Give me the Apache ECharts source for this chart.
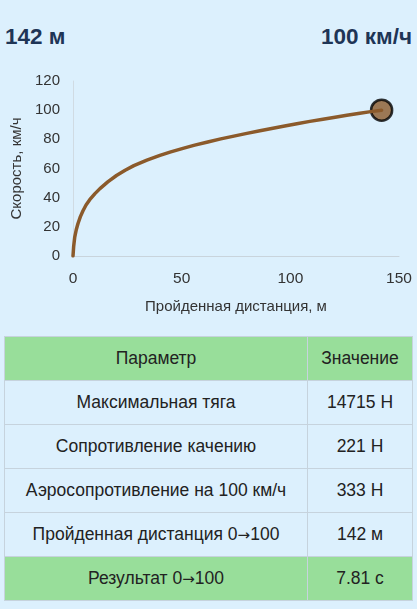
<!DOCTYPE html>
<html><head><meta charset="utf-8">
<script src="https://cdn.jsdelivr.net/npm/echarts@6/dist/echarts.min.js"></script>
<style>
html,body{margin:0;padding:0;background:#dcf0fd;width:417px;height:609px;overflow:hidden;font-family:"Liberation Sans",Arial,sans-serif;}
#hdr{position:absolute;top:24px;left:5px;right:5px;height:30px;font-weight:bold;font-size:22.5px;color:#1e3556;}
#hdr .l{position:absolute;left:0;top:0;}
#hdr .r{position:absolute;right:0;top:0;}
#chart{position:absolute;left:0;top:62px;width:417px;height:262px;}
table{position:absolute;left:4px;top:336px;width:409px;border-collapse:collapse;font-size:17.5px;color:#222;}
td{border:1px solid #c6d3dd;text-align:center;height:43px;padding:0;}
tr.g td{background:#98de9a;}
td.v{width:104px;}
.ar{font-family:"DejaVu Sans";font-size:15px;}
</style></head><body>
<div id="hdr"><span class="l" id="hl"></span><span class="r" id="hr"></span></div>
<div id="chart"></div>
<table id="tbl"></table>
<script>
const distance = [0, 0.3, 0.8, 1.5, 2.3, 3.4, 4.6, 6, 7.7, 10, 12.4, 16, 20, 24, 28, 34, 40, 45, 51, 56, 62, 68, 74, 80, 86, 92, 97.4, 103, 109, 115, 120.6, 126, 132, 137, 142];
const speed    = [0, 6.5, 13, 18, 22.3, 27, 31, 35, 38.6, 42.6, 46.2, 50.8, 55.2, 58.8, 62, 65.8, 69, 71.4, 74, 76, 78.2, 80.3, 82.2, 84.1, 85.9, 87.6, 89.1, 90.7, 92.3, 93.8, 95.2, 96.5, 97.9, 99, 100];
const endPoint = [142, 100];
const headerLeft = "142 м";
const headerRight = "100 км/ч";
const tableHeader = ["Параметр", "Значение"];
const tableParams = ["Максимальная тяга", "Сопротивление качению", "Аэросопротивление на 100 км/ч", "Пройденная дистанция 0→100"];
const tableValues = ["14715 Н", "221 Н", "333 Н", "142 м"];
const resultRow = ["Результат 0→100", "7.81 с"];

document.getElementById('hl').textContent = headerLeft;
document.getElementById('hr').textContent = headerRight;
const tbl = document.getElementById('tbl');
function fill(td, text){
  text.split('→').forEach((part, k)=>{
    if(k>0){const s=document.createElement('span'); s.className='ar'; s.textContent='→'; td.appendChild(s);}
    td.appendChild(document.createTextNode(part));
  });
}
function addRow(cells, cls){
  const tr = document.createElement('tr'); if(cls) tr.className = cls;
  cells.forEach((c,i)=>{const td=document.createElement('td'); fill(td, c); if(i===1) td.className='v'; tr.appendChild(td);});
  tbl.appendChild(tr);
}
addRow(tableHeader, 'g');
tableParams.forEach((p,i)=>addRow([p, tableValues[i]]));
addRow(resultRow, 'g');

const chart = echarts.init(document.getElementById('chart'));
const lineData = distance.map((d,i)=>[d, speed[i]]);
chart.setOption({
  animation:false,
  grid:{left:73, right:18, top:19, bottom:68, outerBoundsMode:'none', containLabel:false},
  xAxis:{type:'value', min:0, max:150, interval:50,
    name:'Пройденная дистанция, м', nameLocation:'middle', nameGap:43,
    nameTextStyle:{fontSize:15, color:'#333', fontFamily:'Liberation Sans'},
    axisLine:{show:true, lineStyle:{color:'#c9d4dc'}}, axisTick:{show:false},
    splitLine:{show:false},
    axisLabel:{fontSize:15.5, color:'#333', margin:15, fontFamily:'Liberation Sans'}},
  yAxis:{type:'value', min:0, max:120, interval:20,
    name:'Скорость, км/ч', nameLocation:'middle', nameGap:49,
    nameTextStyle:{fontSize:15, color:'#333', fontFamily:'Liberation Sans'},
    axisLine:{show:true, lineStyle:{color:'#d0dbe3'}}, axisTick:{show:false},
    splitLine:{show:false},
    axisLabel:{fontSize:15, color:'#333', margin:13, fontFamily:'Liberation Sans'}},
  series:[
    {type:'line', data:lineData, smooth:false, showSymbol:false, lineStyle:{color:'#8b5a2b', width:3.5, join:'round', cap:'round'}},
    {type:'scatter', data:[endPoint], symbolSize:21, itemStyle:{color:'#8b5a2b', borderColor:'#000', borderWidth:2.5}}
  ]
});
</script>
</body></html>
